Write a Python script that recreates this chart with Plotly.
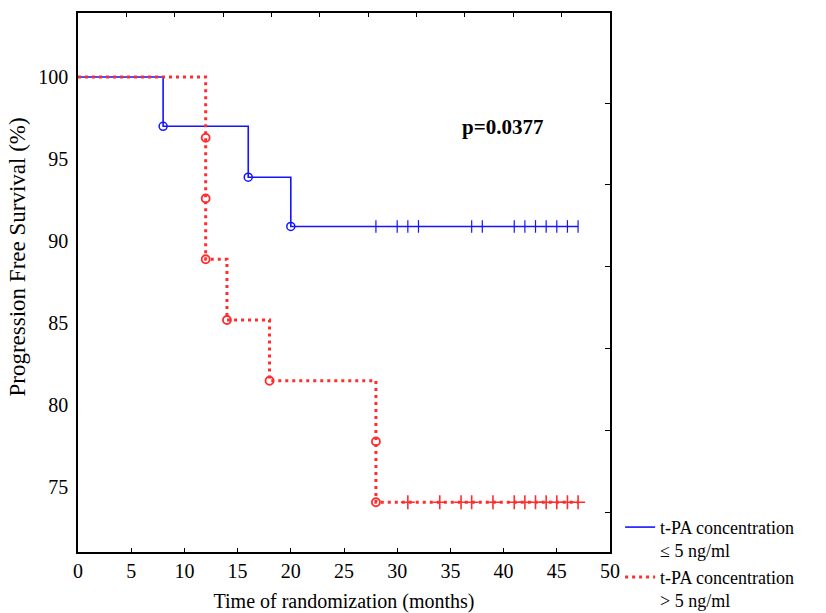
import plotly.graph_objects as go

# Kaplan-Meier steps: event times (months) and survival after each event (%)
low_times = [0, 8, 16, 20, 47]
low_surv = [100.0, 97.0, 93.9, 90.9, 90.9]
low_event_t = [8, 16, 20]
low_event_s = [97.0, 93.9, 90.9]
low_censor_t = [28, 30, 31, 32, 37, 38, 41, 42, 43, 44, 45, 46, 47]

high_times = [0, 12, 14, 18, 28, 47]
high_surv = [100.0, 88.9, 85.2, 81.5, 74.1, 74.1]
high_event_t = [12, 12, 12, 14, 18, 28, 28]
high_event_s = [96.3, 92.6, 88.9, 85.2, 81.5, 77.8, 74.1]
high_censor_t = [31, 34, 36, 37, 39, 41, 42, 43, 44, 45, 46, 47]

x_ticks = [0, 5, 10, 15, 20, 25, 30, 35, 40, 45, 50]
y_ticks = [75, 80, 85, 90, 95, 100]

X_RANGE = [0, 50]
Y_RANGE = [71.07, 103.9]

# frame ticks on the top and right edges
top_ticks = [X_RANGE[0] + (X_RANGE[1] - X_RANGE[0]) * k / 11 for k in range(1, 11)]
right_ticks = [73.5, 78.45, 83.45, 88.45, 93.45, 98.4]

BLUE = "rgb(20,20,255)"
RED = "rgb(255,45,45)"
FONT = "Liberation Serif, Times New Roman, serif"


def surv_at(t, times, surv):
    value = surv[0]
    for ti, si in zip(times, surv):
        if ti <= t:
            value = si
    return value


fig = go.Figure()

# low concentration group
fig.add_trace(go.Scatter(
    x=low_times, y=low_surv, mode="lines", line_shape="hv",
    line=dict(color=BLUE, width=1.6), legendgroup="low",
    name="t-PA concentration<br>≤ 5 ng/ml",
))
fig.add_trace(go.Scatter(
    x=low_event_t, y=low_event_s, mode="markers", showlegend=False,
    marker=dict(symbol="circle-open", size=8, color=BLUE, line=dict(width=1.5)),
))
fig.add_trace(go.Scatter(
    x=low_censor_t, y=[surv_at(t, low_times, low_surv) for t in low_censor_t],
    mode="markers", showlegend=False,
    marker=dict(symbol="line-ns", size=9, color=BLUE, line=dict(width=1.2, color=BLUE)),
))

# high concentration group
fig.add_trace(go.Scatter(
    x=high_times, y=high_surv, mode="lines", line_shape="hv",
    line=dict(color=RED, width=3, dash="3px,4px"), legendgroup="high",
    name="t-PA concentration<br>> 5 ng/ml",
))
fig.add_trace(go.Scatter(
    x=high_event_t, y=high_event_s, mode="markers", showlegend=False,
    marker=dict(symbol="circle-open", size=8, color=RED, line=dict(width=1.8)),
))
fig.add_trace(go.Scatter(
    x=high_censor_t, y=[surv_at(t, high_times, high_surv) for t in high_censor_t],
    mode="markers", showlegend=False,
    marker=dict(symbol="cross-thin", size=10, color=RED, line=dict(width=1.6, color=RED)),
))

# helper trace carrying the top and right frame ticks
fig.add_trace(go.Scatter(x=[None], y=[None], xaxis="x2", yaxis="y2",
                         showlegend=False, hoverinfo="skip"))

fig.add_annotation(
    x=39.9, y=96.95, text="<b>p=0.0377</b>", showarrow=False,
    font=dict(family=FONT, size=21, color="black"),
)

# y-axis title
fig.add_annotation(
    xref="paper", yref="paper", x=-0.113, y=0.548, xanchor="center", yanchor="middle",
    text="Progression Free Survival (%)", textangle=-90, showarrow=False,
    font=dict(family=FONT, size=23, color="black"),
)

fig.update_layout(
    width=826, height=613,
    margin=dict(l=78, r=216, t=13, b=61, autoexpand=False),
    paper_bgcolor="white", plot_bgcolor="white",
    font=dict(family=FONT, size=20, color="black"),
    xaxis=dict(
        range=X_RANGE, tickvals=x_ticks, ticks="inside", ticklen=4, tickwidth=1,
        tickcolor="black", showline=True, linecolor="black", linewidth=1.5,
        mirror=True, showgrid=False, zeroline=False,
        tickfont=dict(family=FONT, size=20),
        title=dict(text="Time of randomization (months)", standoff=13,
                   font=dict(family=FONT, size=20)),
    ),
    xaxis2=dict(
        range=X_RANGE, overlaying="x", side="top", tickvals=top_ticks,
        showticklabels=False, ticks="inside", ticklen=4, tickcolor="black",
        showgrid=False, zeroline=False, showline=False,
    ),
    yaxis=dict(
        range=Y_RANGE, tickvals=y_ticks, ticks="",
        showline=True, linecolor="black", linewidth=1.5, mirror=True,
        showgrid=False, zeroline=False, ticklabelstandoff=4,
        tickfont=dict(family=FONT, size=20),
    ),
    yaxis2=dict(
        range=Y_RANGE, overlaying="y", side="right", tickvals=right_ticks,
        showticklabels=False, ticks="inside", ticklen=5, tickcolor="black",
        showgrid=False, zeroline=False, showline=False,
    ),
    legend=dict(
        x=1.019, y=0.08, xanchor="left", yanchor="top", valign="top",
        bgcolor="rgba(0,0,0,0)", font=dict(family=FONT, size=18),
        traceorder="grouped", tracegroupgap=0, itemwidth=30,
    ),
    showlegend=True,
)

fig.write_html("out.html")
